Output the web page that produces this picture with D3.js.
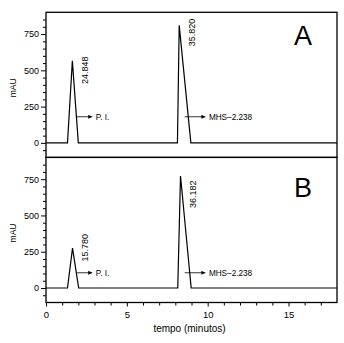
<!DOCTYPE html>
<html>
<head>
<meta charset="utf-8">
<script src="https://cdn.jsdelivr.net/npm/d3@7/dist/d3.min.js"></script>
<style>
  html, body { margin: 0; padding: 0; background: #fff; }
  svg { display: block; font-family: "Liberation Sans", Arial, sans-serif; }
</style>
</head>
<body>
<svg id="chart" width="344" height="343"></svg>
<script>
// Chromatogram data: two runs (A, B), each with two peaks
const panels = ["A", "B"];
const peakNames = ["P. I.", "MHS–2.238"];
// each peak: [start time, apex time, end time] in minutes
const peakTimesA = [[1.33, 1.63, 2.0], [8.13, 8.24, 8.96]];
const peakTimesB = [[1.33, 1.64, 2.02], [8.15, 8.32, 8.98]];
// apex heights in mAU
const peakHeightsA = [565, 810];
const peakHeightsB = [275, 772];
// area labels printed beside each apex
const peakAreasA = ["24.848", "35.820"];
const peakAreasB = ["15.780", "36.182"];
const runEnd = 18;

const xTicks = [0, 5, 10, 15];
const yTicks = [0, 250, 500, 750];

const svg = d3.select("#chart");
const plotLeft = 46, plotRight = 337, plotTop = 12.3, plotMid = 157.4, plotBottom = 302.5;

const x = d3.scaleLinear().domain([0, runEnd]).range([plotLeft, plotRight]);
const yA = d3.scaleLinear().domain([-100, 900]).range([plotMid, plotTop]);
const yB = d3.scaleLinear().domain([-100, 900]).range([plotBottom, plotMid]);

svg.append("defs").append("marker")
  .attr("id", "head").attr("viewBox", "0 0 10 10")
  .attr("refX", 10).attr("refY", 5)
  .attr("markerWidth", 5).attr("markerHeight", 4)
  .attr("markerUnits", "userSpaceOnUse")
  .attr("orient", "auto")
  .append("path").attr("d", "M0,0L10,5L0,10Z").attr("fill", "#000");

function tracePoints(times, heights) {
  const pts = [[0, 0]];
  times.forEach((t, i) => {
    pts.push([t[0], 0], [t[1], heights[i]], [t[2], 0]);
  });
  pts.push([runEnd, 0]);
  return pts;
}

// per-panel annotation placement
const layout = [
  { y: yA, times: peakTimesA, heights: peakHeightsA, areas: peakAreasA,
    labelDrop: [23, 21], arrowAt: 180, letterY: 45 },
  { y: yB, times: peakTimesB, heights: peakHeightsB, areas: peakAreasB,
    labelDrop: [13.5, 32], arrowAt: 105, letterY: 197.3 }
];
const arrowSpans = [[1.92, 2.86], [8.58, 9.86]];

layout.forEach((p, k) => {
  const g = svg.append("g");
  const y = p.y;

  // frame
  g.append("rect")
    .attr("x", plotLeft).attr("y", y.range()[1])
    .attr("width", plotRight - plotLeft).attr("height", y.range()[0] - y.range()[1])
    .attr("fill", "none").attr("stroke", "#000").attr("stroke-width", 1.3);

  // minor y ticks every 50
  const minor = d3.range(-50, 900, 50).filter(v => v % 250 !== 0);
  g.append("g").attr("transform", `translate(${plotLeft},0)`)
    .call(d3.axisLeft(y).tickValues(minor).tickSize(3).tickFormat(""))
    .call(a => a.select(".domain").remove());
  g.append("g").attr("transform", `translate(${plotLeft},0)`)
    .call(d3.axisLeft(y).tickValues(yTicks).tickSize(5).tickPadding(2))
    .call(a => a.select(".domain").remove())
    .call(a => a.selectAll("text").attr("font-size", 9).attr("fill", "#000")
      .attr("font-family", "Liberation Sans, Arial, sans-serif"));
  g.selectAll(".tick line").attr("stroke", "#000").attr("stroke-width", 1);

  // y title
  g.append("text")
    .attr("transform", `translate(15.5,${(y.range()[0] + y.range()[1]) / 2 + 3}) rotate(-90)`)
    .attr("text-anchor", "middle").attr("font-size", 8.5).text("mAU");

  // signal trace
  const line = d3.line().x(d => x(d[0])).y(d => y(d[1]));
  g.append("path")
    .datum(tracePoints(p.times, p.heights))
    .attr("d", line)
    .attr("fill", "none").attr("stroke", "#000").attr("stroke-width", 1.2)
    .attr("stroke-linejoin", "miter");

  // area labels, rotated
  p.times.forEach((t, i) => {
    const px = x(t[1]) + 15.5;
    const py = y(p.heights[i]) + p.labelDrop[i];
    g.append("text")
      .attr("transform", `translate(${px},${py}) rotate(-90)`)
      .attr("font-size", 9).text(p.areas[i]);
  });

  // arrows naming each peak
  arrowSpans.forEach((s, i) => {
    const ay = y(p.arrowAt);
    g.append("line")
      .attr("x1", x(s[0])).attr("x2", x(s[1]))
      .attr("y1", ay).attr("y2", ay)
      .attr("stroke", "#000").attr("stroke-width", 0.8)
      .attr("marker-end", "url(#head)");
    g.append("text")
      .attr("x", x(s[1]) + 3.5).attr("y", ay + 3)
      .attr("font-size", 8.2).text(peakNames[i]);
  });

  // panel letter
  g.append("text")
    .attr("x", 303).attr("y", p.letterY)
    .attr("text-anchor", "middle").attr("font-size", 27).text(panels[k]);
});

// time axis
const xa = svg.append("g").attr("transform", `translate(0,${plotBottom})`);
xa.append("g")
  .call(d3.axisBottom(x).tickValues(d3.range(1, runEnd, 1).filter(v => v % 5 !== 0)).tickSize(3).tickFormat(""))
  .call(a => a.select(".domain").remove());
xa.append("g")
  .call(d3.axisBottom(x).tickValues(xTicks).tickSize(4).tickPadding(5))
  .call(a => a.select(".domain").remove())
  .call(a => a.selectAll("text").attr("font-size", 9.5).attr("fill", "#000")
    .attr("font-family", "Liberation Sans, Arial, sans-serif"));
xa.selectAll(".tick line").attr("stroke", "#000");

svg.append("text")
  .attr("x", (plotLeft + plotRight) / 2 - 2).attr("y", 331.5)
  .attr("text-anchor", "middle").attr("font-size", 10).text("tempo (minutos)");
</script>
</body>
</html>
